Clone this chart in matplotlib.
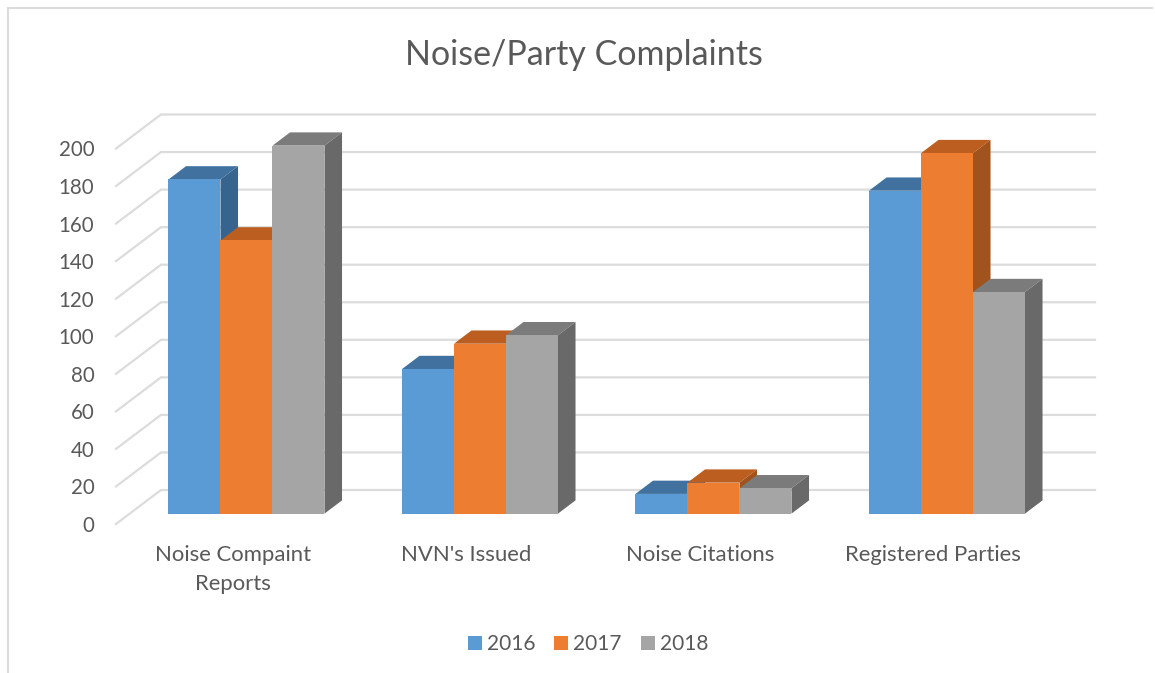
import matplotlib
matplotlib.use("Agg")
import matplotlib.pyplot as plt
from matplotlib.lines import Line2D
from matplotlib.patches import Polygon

categories = ["Noise Compaint\nReports", "NVN's Issued", "Noise Citations", "Registered Parties"]
years = ["2016", "2017", "2018"]
values_2016 = [178, 77, 10.5, 172]
values_2017 = [145.5, 90.5, 16.5, 192]
values_2018 = [196, 95, 13.5, 118]
y_ticks = [0, 20, 40, 60, 80, 100, 120, 140, 160, 180, 200]

front_colors = ["#5B9BD5", "#ED7D31", "#A5A5A5"]
top_colors = ["#41729F", "#BC5E1F", "#7B7B7B"]
side_colors = ["#37648F", "#A0531C", "#696969"]
TEXT = "#595959"
GRID = "#DCDCDC"

W, H = 1155, 673
plt.rcParams["font.family"] = ["Lato", "DejaVu Sans"]
fig = plt.figure(figsize=(W / 100, H / 100), dpi=100)
L, R, T, B = 116, 1050, 148.5, 524
ax = fig.add_axes([L / W, 1 - B / H, (R - L) / W, (B - T) / H])
ax.set_xlim(-0.5, 3.5)
ax.set_ylim(0, 200)
ax.patch.set_alpha(0)
for s in ax.spines.values():
    s.set_visible(False)

# oblique projection: full depth of the floor in data units
DX = 45 / 233.5
DY = 34 / 1.8775
D0, D1 = 0.305, 0.695
BW = 52 / 233.5


def proj(x, v, d):
    return (x + d * DX, v + d * DY)


# walls / gridlines
for v in y_ticks:
    ax.plot(*zip(proj(-0.5, v, 0), proj(-0.5, v, 1), proj(3.5, v, 1)),
            color=GRID, lw=1.6, clip_on=False, zorder=1, solid_joinstyle="miter")

# bars
series = [values_2016, values_2017, values_2018]
z = 3
for c in range(len(categories)):
    for i, vals in enumerate(series):
        v = vals[c]
        x0 = c + (i - 1.5) * BW
        x1 = x0 + BW
        ax.add_patch(Polygon([proj(x0, v, D0), proj(x1, v, D0), proj(x1, v, D1), proj(x0, v, D1)],
                             closed=True, fc=top_colors[i], ec="none", clip_on=False, zorder=z))
        ax.add_patch(Polygon([proj(x1, 0, D0), proj(x1, 0, D1), proj(x1, v, D1), proj(x1, v, D0)],
                             closed=True, fc=side_colors[i], ec="none", clip_on=False, zorder=z))
        ax.add_patch(Polygon([proj(x0, 0, D0), proj(x1, 0, D0), proj(x1, v, D0), proj(x0, v, D0)],
                             closed=True, fc=front_colors[i], ec="none", clip_on=False, zorder=z + 0.5))
        z += 1

ax.set_xticks(range(len(categories)))
ax.set_xticklabels(categories, fontsize=15.9, color=TEXT, linespacing=1.56)
ax.set_yticks(y_ticks)
ax.set_yticklabels([str(t) for t in y_ticks], fontsize=14.8, color=TEXT)
ax.tick_params(axis="x", length=0, pad=15)
ax.tick_params(axis="y", length=0, pad=15.5)

fig.text(584 / W, 1 - 55 / H, "Noise/Party Complaints", fontsize=24.5, color=TEXT, ha="center", va="center")

handles = [plt.Rectangle((0, 0), 1, 1, fc=c, ec="none") for c in front_colors]
fig.legend(handles, years, loc="center", bbox_to_anchor=(588 / W, 1 - 644 / H), ncol=3, frameon=False,
           fontsize=15, labelcolor=TEXT, handlelength=0.67, handleheight=0.67, handletextpad=0.25,
           columnspacing=0.9, borderpad=0)

# chart frame
fig.add_artist(Line2D([8 / W, 8 / W], [0, 1 - 8 / H], color=GRID, lw=1.5, transform=fig.transFigure))
fig.add_artist(Line2D([8 / W, 1152 / W], [1 - 8 / H, 1 - 8 / H], color=GRID, lw=1.5, transform=fig.transFigure))

fig.savefig("out.png", dpi=100)
